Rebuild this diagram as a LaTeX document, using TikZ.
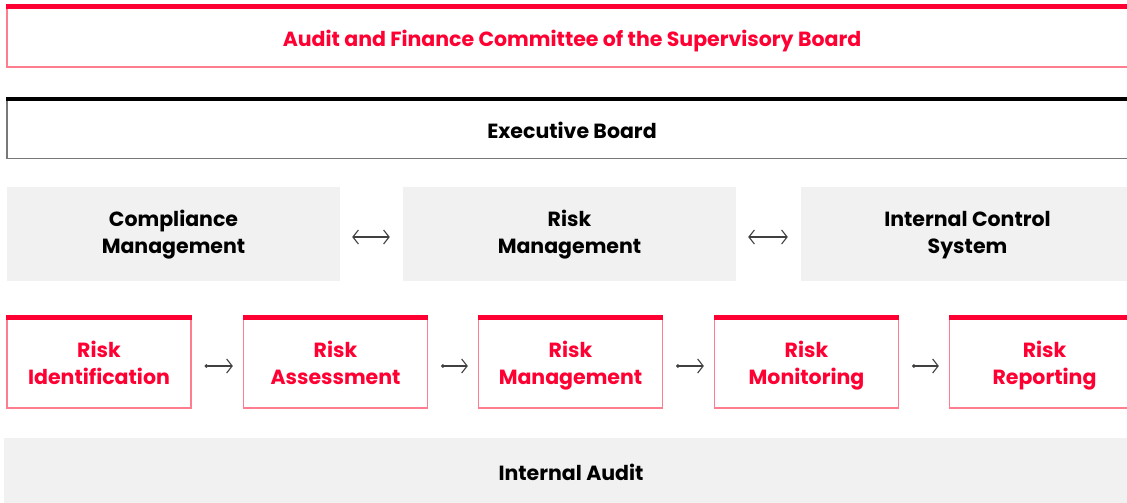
\documentclass[tikz,border=0pt]{standalone}
\usepackage{fontspec}
\setmainfont{Poppins}
\usetikzlibrary{arrows.meta}

\definecolor{brandred}{RGB}{255,0,51}
\definecolor{lightred}{RGB}{255,125,142}
\definecolor{boxgray}{RGB}{241,241,241}
\definecolor{edgegray}{RGB}{120,120,120}

\tikzset{
  lbl/.style={font=\bfseries\fontsize{20.5}{26.5}\selectfont, align=center, inner sep=0pt,
    text depth=0pt},
  redbox/.style={lbl, draw=lightred, line width=1.3pt, fill=white, text=brandred},
  blackbox/.style={lbl, draw=edgegray, line width=1.3pt, fill=white, text=black},
  graybox/.style={lbl, fill=boxgray, text=black},
  twoway/.style={{Straight Barb[length=5.5pt,width=14pt]}-{Straight Barb[length=5.5pt,width=14pt]},
    line width=1.1pt, draw=black!75},
  oneway/.style={{Circle[length=3.5pt]}-{Straight Barb[length=5.5pt,width=14pt]},
    line width=1.1pt, draw=black!75},
}

\begin{document}
\begin{tikzpicture}[x=1pt,y=-1pt]

  \useasboundingbox (0,0) rectangle (1127,503);

  % aufsicht und vorstand
  \node[redbox, minimum width=1130, minimum height=62, text height=22pt] (afc) at (572,36)
       {Audit and Finance Committee of the Supervisory Board};
  \fill[brandred] (afc.north west) rectangle ([yshift=-4.5pt]afc.north east);

  \node[blackbox, minimum width=1130, minimum height=61, text height=21pt] (exb) at (572,128)
       {Executive Board};
  \fill[black] (exb.north west) rectangle ([yshift=-4.5pt]exb.north east);

  % drei saeulen
  \def\Gy{234};
  \def\Gh{94};
  \tikzset{every node/.append style={text height=38pt}}
  \node[graybox, minimum width=333, minimum height=\Gh] (cm) at (173.5,\Gy)
       {Compliance\\Management};
  \node[graybox, minimum width=333, minimum height=\Gh] (rm) at (569.5,\Gy)
       {Risk\\Management};
  \node[graybox, minimum width=333, minimum height=\Gh] (ics) at (967.5,\Gy)
       {Internal Control\\System};

  \draw[twoway, shorten <=12pt, shorten >=13pt] ([yshift=-3pt]cm.east) -- ([yshift=-3pt]rm.west);
  \draw[twoway, shorten <=12pt, shorten >=13pt] ([yshift=-3pt]rm.east) -- ([yshift=-3pt]ics.west);

  % prozesskette
  \def\Ry{362};
  \def\Rw{184};
  \def\Rh{92};
  \tikzset{every node/.append style={text height=44pt}}
  \node[redbox, minimum width=\Rw, minimum height=\Rh] (rid) at (99,\Ry)
       {Risk\\Identification};
  \node[redbox, minimum width=\Rw, minimum height=\Rh] (ras) at (335.5,\Ry)
       {Risk\\Assessment};
  \node[redbox, minimum width=\Rw, minimum height=\Rh] (rmg) at (570.5,\Ry)
       {Risk\\Management};
  \node[redbox, minimum width=\Rw, minimum height=\Rh] (rmo) at (806.5,\Ry)
       {Risk\\Monitoring};
  \node[redbox, minimum width=190, minimum height=\Rh] (rrp) at (1044.5,\Ry)
       {Risk\\Reporting};

  \foreach \a/\b in {rid/ras,ras/rmg,rmg/rmo,rmo/rrp}
  {
    \fill[brandred] (\a.north west) rectangle ([yshift=-4.5pt]\a.north east);
    \draw[oneway, shorten <=13pt, shorten >=10pt] ([yshift=-4pt]\a.east) -- ([yshift=-4pt]\b.west);
  }
  \fill[brandred] (rrp.north west) rectangle ([yshift=-4.5pt]rrp.north east);

  % revision
  \node[graybox, minimum width=1134, minimum height=66, text height=18pt] (ia) at (571,471)
       {Internal Audit};

\end{tikzpicture}
\end{document}
